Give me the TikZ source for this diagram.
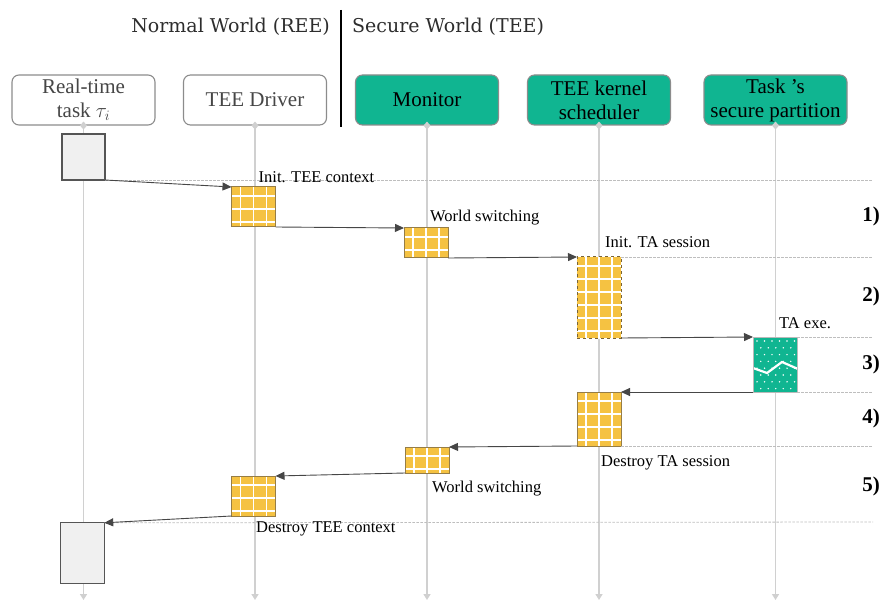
\documentclass[tikz,border=0pt]{standalone}
\usepackage{fontspec}
\setmainfont{Liberation Serif}
\newfontfamily\bodyfont{Liberation Serif}
\newfontfamily\hdrfont{DejaVu Serif}
\usetikzlibrary{arrows.meta}

\definecolor{teegreen}{RGB}{16,181,145}
\definecolor{gridyellow}{RGB}{245,194,66}
\definecolor{gridedge}{RGB}{150,125,70}
\definecolor{boxedge}{RGB}{140,140,140}
\definecolor{textgrey}{RGB}{70,70,70}
\definecolor{hdrgrey}{RGB}{45,45,45}
\definecolor{actfill}{RGB}{240,240,240}
\definecolor{actedge}{RGB}{85,85,85}
\definecolor{msgcol}{RGB}{70,70,70}
\definecolor{guidegrey}{RGB}{190,190,190}
\definecolor{lifegrey}{RGB}{208,208,208}

\tikzset{
  head/.style={rounded corners=7pt, draw=boxedge, line width=1.1pt,
    minimum width=143pt, minimum height=50pt, inner sep=0pt, align=center,
    font=\bodyfont\fontsize{21}{24}\selectfont},
  reebox/.style={head, fill=white, text=textgrey},
  teebox/.style={head, fill=teegreen, text=black},
  act/.style={inner sep=0pt, outer sep=0pt, line width=1.2pt, draw=actedge, fill=actfill},
  gridact/.style={inner sep=0pt, outer sep=0pt, fill=gridyellow, draw=gridedge, line width=1pt,
    path picture={
      \foreach \k in {0,...,7}{
        \draw[white, solid, line width=1.3pt]
          ([xshift={(9+13*\k)*1pt}]path picture bounding box.north west) -- ++(0pt,-300pt);
        \draw[white, solid, line width=1.3pt]
          ([yshift={-(9+13*\k)*1pt}]path picture bounding box.north west) -- ++(300pt,0pt);
      }
    }},
  taact/.style={inner sep=0pt, outer sep=0pt, fill=teegreen, draw=gray!55, line width=1pt,
    path picture={
      \foreach \r in {0,...,8}{
        \foreach \c in {0,...,6}{
          \fill[white] ([xshift={(4+7.5*\c+3.75*mod(\r,2))*1pt}, yshift={-(4+6.8*\r)*1pt}]path picture bounding box.north west) circle[radius=0.8pt];
        }
      }
      \draw[white, line width=2.2pt]
        ([yshift=-31pt]path picture bounding box.north west) -- ++(14pt,-5pt) -- ++(15pt,11pt) -- ++(16pt,-7pt);
    }},
  msg/.style={draw=msgcol, line width=0.9pt, -{Triangle[length=9pt,width=8pt]}},
  lbl/.style={anchor=base west, font=\bodyfont\fontsize{16.5}{18}\selectfont, inner sep=0pt},
  phase/.style={font=\bodyfont\bfseries\fontsize{21}{24}\selectfont, inner sep=0pt},
  guide/.style={draw=guidegrey, dash pattern=on 2.5pt off 1.5pt, line width=0.8pt},
  lifeline/.style={draw=lifegrey, line width=1.5pt,
    {Diamond[length=8pt,width=7pt,fill=lifegrey]}-{Triangle[length=6pt,width=7pt]}},
  world/.style={font=\hdrfont\fontsize{19}{22}\selectfont, text=hdrgrey, inner sep=0pt}
}

\begin{document}
\begin{tikzpicture}[x=1pt,y=-1pt]
\useasboundingbox (0,0) rectangle (882,601);

% world headings and separator
\node[world, anchor=east] (hn) at (330,27) {Normal World (REE)};
\node[world, anchor=west] (hs) at (352,27) {Secure World (TEE)};
\draw[black, line width=2pt] (341,10) -- (341,127);

% participants
\node[reebox] (rt)  at (83.5,100) {Real-time\\task $\tau_{i}$};
\node[reebox] (drv) at (255,100)  {TEE Driver};
\node[teebox] (mon) at (427,100)  {Monitor};
\node[teebox] (sch) at (599,100)  {TEE kernel\\scheduler};
\node[teebox] (tsp) at (775.5,100) {Task ’s\\secure partition};

% lifeline ends
\coordinate (rtend)  at (83.5,600);
\coordinate (drvend) at (255,600);
\coordinate (monend) at (427,600);
\coordinate (schend) at (599,600);
\coordinate (tspend) at (775.5,600);

\draw[lifeline] ([yshift=4pt]rt.south)  -- (rtend);
\draw[lifeline] ([yshift=4pt]drv.south) -- (drvend);
\draw[lifeline] ([yshift=4pt]mon.south) -- (monend);
\draw[lifeline] ([yshift=4pt]sch.south) -- (schend);
\draw[lifeline] ([yshift=4pt]tsp.south) -- (tspend);

% activations
\node[act, minimum width=43pt, minimum height=46pt] (rt1) at (83.5,157) {};
\node[gridact, minimum width=44pt, minimum height=40pt] (d1) at (253.5,207) {};
\node[gridact, minimum width=44pt, minimum height=30pt] (m1) at (426,243) {};
\node[gridact, dashed, draw=gridedge!80!black, minimum width=44pt, minimum height=81pt] (s1) at (599,297.5) {};
\node[taact, minimum width=44pt, minimum height=55pt] (ta) at (775,364.5) {};
\node[gridact, minimum width=44pt, minimum height=54pt] (s2) at (599,419) {};
\node[gridact, minimum width=44pt, minimum height=26pt] (m2) at (427,460) {};
\node[gridact, minimum width=44pt, minimum height=40pt] (d2) at (253.5,496) {};
\node[act, minimum width=43.5pt, minimum height=61pt] (rt2) at (82.5,553.3) {};

% phase boundaries
\coordinate (g1) at (873,180);
\coordinate (g2) at (873,257);
\coordinate (g3) at (873,337);
\coordinate (g4) at (873,392);
\coordinate (g5) at (873,446);
\coordinate (g6) at (873,522);
\draw[guide] (rt1.south east) -- (g1);
\draw[guide] (s1.north east) -- (g2);
\draw[guide] (ta.north east) -- (g3);
\draw[guide] (ta.south east) -- (g4);
\draw[guide] (s2.south east) -- (g5);
\draw[guide] (rt2.north east) -- (g6);

% messages
\draw[msg] (rt1.south east) -- (d1.north west);
\draw[msg] (d1.south east) -- (m1.north west);
\draw[msg] (m1.south east) -- (s1.north west);
\draw[msg] (s1.south east) -- (ta.north west);
\draw[msg] (ta.south west) -- (s2.north east);
\draw[msg] (s2.south west) -- (m2.north east);
\draw[msg] (m2.south west) -- (d2.north east);
\draw[msg] (d2.south west) -- (rt2.north east);

% message labels
\node[lbl] (l1) at (258.5,182.5) {Init. TEE context};
\node[lbl] (l2) at (430,222) {World switching};
\node[lbl] (l3) at (605,248) {Init. TA session};
\node[lbl] (l4) at (779,328.5) {TA exe.};
\node[lbl] (l6) at (601,466) {Destroy TA session};
\node[lbl] (l7) at (432,492) {World switching};
\node[lbl] (l8) at (256,532) {Destroy TEE context};

% phase numbers
\node[phase] (p1) at (871,216) {1)};
\node[phase] (p2) at (871,296) {2)};
\node[phase] (p3) at (871,364) {3)};
\node[phase] (p4) at (871,418) {4)};
\node[phase] (p5) at (871,486) {5)};
\end{tikzpicture}
\end{document}
